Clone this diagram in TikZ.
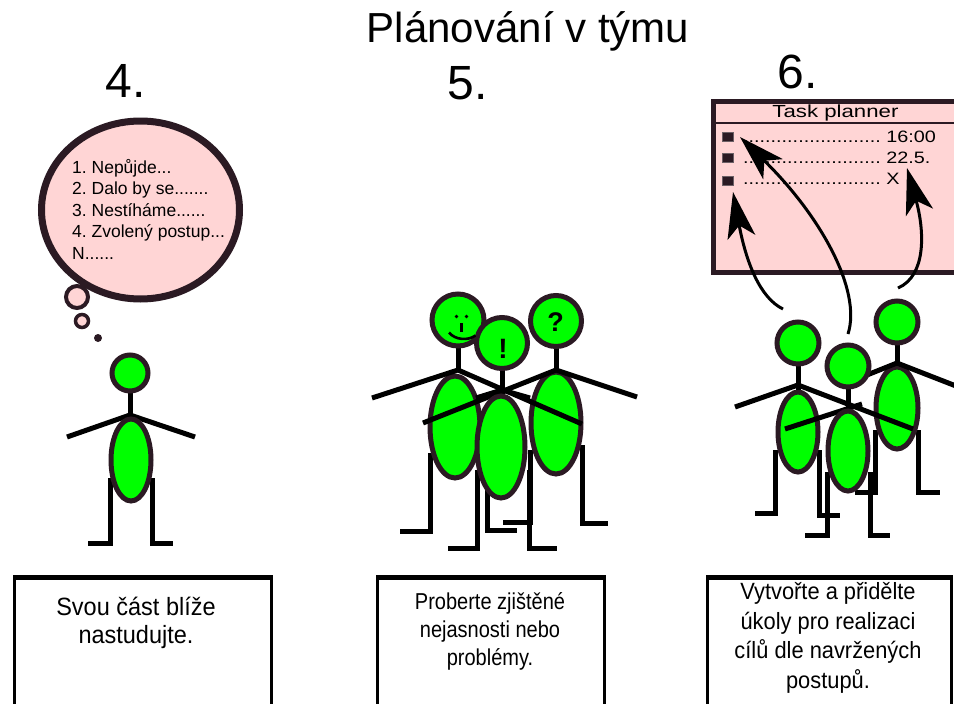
\documentclass[tikz,border=0pt]{standalone}
\usepackage{fontspec}
\setmainfont{Liberation Sans}
\usetikzlibrary{arrows.meta}
\definecolor{outl}{HTML}{2B1A23}
\definecolor{lime}{HTML}{00FF00}
\definecolor{blush}{HTML}{FFD5D5}
\frenchspacing
% horizontally scaled block of centred lines
\newcommand{\capblock}[2]{\scalebox{#1}[1]{\begin{tabular}{@{}c@{}}#2\end{tabular}}}
\begin{document}
\begin{tikzpicture}[x=1pt,y=-1pt,
  limb/.style={line width=5pt,black,line cap=butt,line join=miter},
  skin/.style={draw=outl,fill=lime,line width=5pt},
  big/.style={font=\fontsize{42}{50}\selectfont,inner sep=0pt},
  numeral/.style={font=\fontsize{48}{56}\selectfont,inner sep=0pt,anchor=base},
  thought/.style={font=\fontsize{17.5}{21}\selectfont,anchor=base west,inner sep=0pt},
  rowtext/.style={font=\fontsize{16.5}{20}\selectfont,anchor=base west,inner sep=0pt},
  caption/.style={inner sep=0pt},
  frame/.style={draw=black,line width=3pt,inner sep=0pt},
  pointer/.style={line width=3pt,-{Stealth[length=46pt,width=28pt,inset=12pt]}},
  bullet/.style={fill=outl,draw=outl!70,line width=0.8pt,minimum width=11pt,minimum height=9pt,inner sep=0pt}
]
\useasboundingbox (0,0) rectangle (954,704);
\fill[white] (0,0) rectangle (954,704);

% headings
\node[big,anchor=base] (title) at (528,42) {Plánování v týmu};
\node[numeral] (n4) at (126,97) {4.};
\node[numeral] (n5) at (468,99) {5.};
\node[numeral] (n6) at (798,88) {6.};

% ---------- step 4: thinking figure ----------
\draw[draw=outl,fill=blush,line width=7pt] (140.5,210) ellipse [x radius=99, y radius=89];
\node[thought] (t1) at (72,173) {1. Nepůjde...};
\node[thought] (t2) at (72,194.5) {2. Dalo by se.......};
\node[thought] (t3) at (72,216) {3. Nestíháme......};
\node[thought] (t4) at (72,237.5) {4. Zvolený postup...};
\node[thought] (t5) at (72,259) {N......};
\draw[draw=outl,fill=blush,line width=4pt] (77,297) circle [radius=11];
\draw[draw=outl,fill=blush,line width=3.5pt] (82,321) circle [radius=6.5];
\fill[outl] (98,338) circle [radius=4];

\draw[limb] (110,478) -- (110,543) -- (88,543);
\draw[limb] (152,478) -- (152,543) -- (173,543);
\draw[limb] (130,393) -- (130,415);
\draw[limb] (67,437) -- (130,415) -- (195,437);
\draw[skin] (131,460) ellipse [x radius=20, y radius=41];
\draw[skin] (130,373) circle [radius=18];

% ---------- step 5: discussing group ----------
\draw[limb] (430,453) -- (430,531) -- (400,531);
\draw[limb] (487,478) -- (487,530) -- (517,530);
\draw[limb] (477,470) -- (477,548) -- (448,548);
\draw[limb] (529,470) -- (529,548) -- (557,548);
\draw[limb] (530,450) -- (530,522) -- (503,522);
\draw[limb] (582,445) -- (582,523) -- (608,523);

\draw[skin] (455,427) ellipse [x radius=25, y radius=51];
\draw[skin] (556,423) ellipse [x radius=25, y radius=51];
\draw[limb] (458,346) -- (458,372);
\draw[limb] (556,346) -- (556,372);
\draw[limb] (502,368) -- (502,396);
\draw[limb] (476,398) -- (502,390) -- (530,398);
\draw[limb] (372,398) -- (458,370) -- (582,424);
\draw[limb] (423,423) -- (556,370) -- (637,397);
\draw[skin] (501,447) ellipse [x radius=24, y radius=51];

\draw[skin] (458,320) circle [radius=26];
\draw[skin] (556,321) circle [radius=25.5];
\draw[skin] (502,343) circle [radius=25.5];
% smiling face
\fill[black] (456.5,316.5) circle [radius=1.8];
\fill[black] (466.5,316.5) circle [radius=1.8];
\draw[black,line width=2.6pt] (461.7,323) -- (461.7,331.5);
\draw[black,line width=2.6pt] (449,332.5) .. controls (455,340) and (468,341) .. (475.5,335.5);
\node[font=\fontsize{28}{30}\bfseries\selectfont,inner sep=0pt] (excl) at (503,349) {!};
\node[font=\fontsize{27}{30}\bfseries\selectfont,inner sep=0pt] (quest) at (555.5,322) {?};

% ---------- step 6: planning group ----------
\node[draw=outl,fill=blush,line width=5pt,minimum width=250pt,minimum height=171pt,inner sep=0pt,anchor=north west] (planner) at (711,99) {};
\draw[outl,line width=1.4pt] (711,123) -- (958,123);
\node[font=\fontsize{17.5}{20}\selectfont,anchor=base,inner sep=0pt] (ptitle) at (835.5,117.5) {\scalebox{1.27}[1]{Task planner}};
\node[bullet] (b1) at (727.5,136.5) {};
\node[bullet] (b2) at (727.5,158) {};
\node[bullet] (b3) at (727.5,180.5) {};
\node[rowtext] (r1) at (743,142) {\scalebox{1.2}[1]{......................... 16:00}};
\node[rowtext] (r2) at (743,163) {\scalebox{1.2}[1]{......................... 22.5.}};
\node[rowtext] (r3) at (743,184) {\scalebox{1.2}[1]{......................... X}};

\draw[limb] (775,450) -- (775,513) -- (755,513);
\draw[limb] (819,450) -- (819,515) -- (840,515);
\draw[limb] (827,472) -- (827,535) -- (805,535);
\draw[limb] (870,472) -- (870,535) -- (890,535);
\draw[limb] (875,430) -- (875,492) -- (855,492);
\draw[limb] (918,430) -- (918,492) -- (940,492);

\draw[skin] (798,432) ellipse [x radius=20, y radius=40];
\draw[skin] (897,408) ellipse [x radius=21, y radius=41];
\draw[limb] (798,364) -- (798,390);
\draw[limb] (848,387) -- (848,409);
\draw[limb] (897,343) -- (897,366);
\draw[limb] (735,407) -- (798,385) -- (913,429);
\draw[limb] (867,375) -- (897,363) -- (956,386);
\draw[limb] (785,429) -- (862,404);
\draw[skin] (848,451) ellipse [x radius=20, y radius=40];
\draw[skin] (798,343) circle [radius=21];
\draw[skin] (848,366) circle [radius=21];
\draw[skin] (897,322) circle [radius=21];

\coordinate (s1) at (783,309);
\coordinate (s2) at (848,334);
\coordinate (s3) at (898,288);
\coordinate (e1) at (733,192);
\coordinate (e2) at (740,137);
\coordinate (e3) at (907,168);
\draw[pointer] (s1) .. controls (760,298) and (746,262) .. (e1);
\draw[pointer] (s2) .. controls (862,290) and (820,215) .. (e2);
\draw[pointer] (s3) .. controls (926,276) and (925,232) .. (e3);

% ---------- captions ----------
\node[frame,minimum width=257pt,minimum height=128pt,anchor=north west] (c4) at (13,577) {};
\node[frame,minimum width=227pt,minimum height=128pt,anchor=north west] (c5) at (376,577) {};
\node[frame,minimum width=244pt,minimum height=128pt,anchor=north west] (c6) at (706,577) {};
\draw[line width=5pt] (c4.north west) -- (c4.north east);
\draw[line width=5pt] (c5.north west) -- (c5.north east);
\draw[line width=5pt] (c6.north west) -- (c6.north east);
\node[caption,font=\fontsize{25}{27.5}\selectfont] (k4) at (136,624)
  {\capblock{0.94}{Svou část blíže\\nastudujte.}};
\node[caption,font=\fontsize{23}{28}\selectfont] (k5) at (490,632)
  {\capblock{0.87}{Proberte zjištěné\\nejasnosti nebo\\problémy.}};
\node[caption,font=\fontsize{23.5}{29.5}\selectfont] (k6) at (828,638)
  {\capblock{0.93}{Vytvořte a přidělte\\úkoly pro realizaci\\cílů dle navržených\\postupů.}};
\end{tikzpicture}
\end{document}
